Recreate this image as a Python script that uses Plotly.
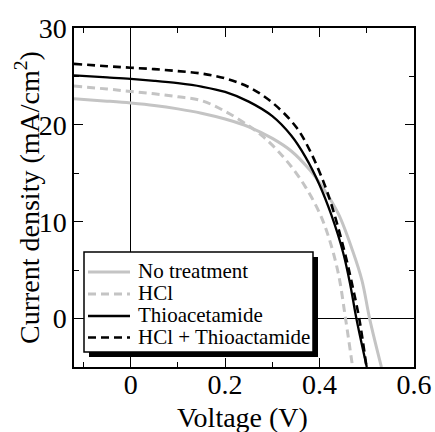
import plotly.graph_objects as go

# ---- data ----
v_none = [-0.12, -0.05, 0.0, 0.05, 0.10, 0.15, 0.20, 0.25, 0.30, 0.34, 0.38, 0.41, 0.44, 0.47, 0.49, 0.506, 0.531]
j_none = [22.7, 22.45, 22.25, 22.0, 21.65, 21.2, 20.6, 19.8, 18.6, 17.3, 15.3, 13.3, 10.8, 7.0, 3.9, 0.0, -5.0]

v_hcl = [-0.12, -0.05, 0.0, 0.05, 0.10, 0.15, 0.20, 0.25, 0.28, 0.31, 0.34, 0.37, 0.40, 0.42, 0.44, 0.455, 0.47]
j_hcl = [24.0, 23.7, 23.45, 23.2, 22.9, 22.5, 21.4, 19.9, 18.8, 17.4, 15.7, 13.6, 10.9, 8.3, 4.6, 0.0, -5.0]

v_thio = [-0.12, -0.05, 0.0, 0.05, 0.10, 0.15, 0.20, 0.25, 0.30, 0.34, 0.37, 0.40, 0.425, 0.45, 0.465, 0.478, 0.50]
j_thio = [25.1, 24.9, 24.75, 24.55, 24.3, 23.95, 23.4, 22.4, 20.9, 18.9, 16.7, 13.8, 10.7, 6.8, 3.5, 0.0, -5.0]

v_both = [-0.12, -0.05, 0.0, 0.05, 0.10, 0.15, 0.20, 0.25, 0.30, 0.35, 0.38, 0.41, 0.43, 0.455, 0.47, 0.484, 0.4995]
j_both = [26.3, 26.05, 25.9, 25.75, 25.55, 25.3, 24.8, 23.9, 22.3, 19.8, 17.3, 13.9, 11.0, 6.5, 3.3, 0.0, -5.0]

names = ["No treatment", "HCl", "Thioacetamide", "HCl + Thioactamide"]
x_title = "Voltage (V)"
y_title = "Current density (mA/cm<sup>2</sup>)"

GRAY = "#c4c4c4"
FONT = "Liberation Serif"

# figure size and plot area in pixels
W, H = 435, 432
PL, PR, PT, PB = 74, 414, 28, 367
PW, PH = PR - PL, PB - PT


def px(x):
    return (x - PL) / PW


def py(y):
    return (PB - y) / PH


fig = go.Figure()
styles = [
    (GRAY, "solid", 3),
    (GRAY, "8px,5px", 3),
    ("black", "solid", 2.3),
    ("black", "8px,5px", 2.6),
]
data = [(v_none, j_none), (v_hcl, j_hcl), (v_thio, j_thio), (v_both, j_both)]
for (v, j), n, (c, d, w) in zip(data, names, styles):
    fig.add_trace(go.Scatter(
        x=v, y=j, name=n, mode="lines", showlegend=False,
        line=dict(color=c, dash=d, width=w, shape="spline", smoothing=1.0),
    ))

axis_common = dict(
    showline=True, linecolor="black", linewidth=1.5, mirror="ticks",
    ticks="inside", ticklen=9, tickwidth=1.2, tickcolor="black",
    showgrid=False, zeroline=True, zerolinecolor="black", zerolinewidth=1.2,
    tickfont=dict(family=FONT, size=28, color="black"),
    automargin=False,
)

fig.update_xaxes(
    range=[-0.12, 0.6], dtick=0.2, tick0=0, ticklabelstandoff=-8,
    minor=dict(dtick=0.1, ticks="inside", ticklen=5, tickcolor="black", tickwidth=1.2),
    **axis_common,
)
fig.update_yaxes(
    range=[-5, 30], dtick=10, tick0=0,
    minor=dict(dtick=5, ticks="inside", ticklen=5, tickcolor="black", tickwidth=1.2),
    **axis_common,
)

# axis titles
fig.add_annotation(text=x_title, xref="paper", yref="paper", x=px(242), y=py(417),
                   xanchor="center", yanchor="middle", showarrow=False,
                   font=dict(family=FONT, size=28, color="black"))
fig.add_annotation(text=y_title, xref="paper", yref="paper", x=px(27), y=py(198),
                   xanchor="center", yanchor="middle", showarrow=False, textangle=-90,
                   font=dict(family=FONT, size=28, color="black"))

# ---- legend box with drop shadow ----
bx0, bx1, by0, by1 = 84, 313, 252, 352
fig.add_shape(type="rect", xref="paper", yref="paper",
              x0=px(bx0 + 5), x1=px(bx1 + 5), y0=py(by1 + 5), y1=py(by0 + 5),
              fillcolor="black", line=dict(width=0), layer="above")
fig.add_shape(type="rect", xref="paper", yref="paper",
              x0=px(bx0), x1=px(bx1), y0=py(by1), y1=py(by0),
              fillcolor="white", line=dict(color="black", width=1.5), layer="above")
rows = [272, 294, 316, 337.5]
for (c, d, w), n, ry in zip(styles, names, rows):
    fig.add_shape(type="line", xref="paper", yref="paper",
                  x0=px(88), x1=px(130), y0=py(ry), y1=py(ry),
                  line=dict(color=c, dash=d, width=w), layer="above")
    fig.add_annotation(text=n, xref="paper", yref="paper",
                       x=px(136), y=py(ry - 1), xanchor="left", yanchor="middle",
                       showarrow=False, font=dict(family=FONT, size=21, color="black"))

fig.update_layout(
    width=W, height=H,
    margin=dict(l=PL, r=W - PR, t=PT, b=H - PB),
    plot_bgcolor="white", paper_bgcolor="white",
    font=dict(family=FONT, color="black"),
    showlegend=False,
)

fig.write_html("out.html",
               config={"displayModeBar": False},
               post_script="document.body.style.margin='0';document.body.style.overflow='hidden';")
